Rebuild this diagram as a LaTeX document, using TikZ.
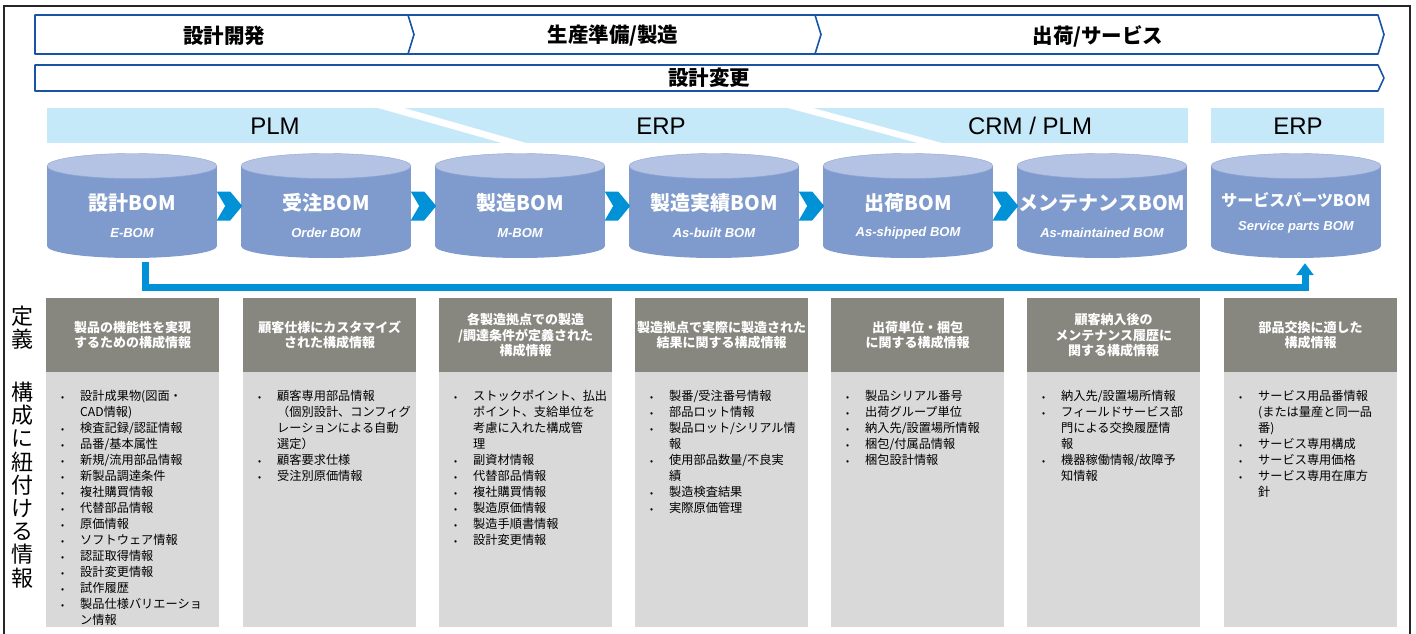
\documentclass[tikz,border=0pt]{standalone}
\usepackage{fontspec}
\setmainfont{Noto Sans CJK JP}
\newfontfamily\latinfont{Liberation Sans}
\usepackage{tikz}
\usetikzlibrary{arrows.meta, calc}
\definecolor{bandline}{RGB}{24, 84, 165}
\definecolor{sysbg}{RGB}{198, 233, 249}
\definecolor{dbbody}{RGB}{127, 155, 205}
\definecolor{dbtop}{RGB}{180, 195, 227}
\definecolor{dbedge}{RGB}{143, 165, 212}
\definecolor{flow}{RGB}{0, 145, 214}
\definecolor{hdgray}{RGB}{135, 135, 128}
\definecolor{bdgray}{RGB}{217, 217, 217}
\newcommand\lbul{{\fontsize{9}{9}\selectfont\textbullet}}

\begin{document}
\begin{tikzpicture}[x=1pt, y=-1pt,
  band/.style={draw=bandline, line width=1.6pt, line join=round},
  phase/.style={font=\fontsize{20.5}{20.5}\selectfont\bfseries},
  sys/.style={font=\latinfont\fontsize{24}{24}\selectfont},
  dbbox/.style={minimum width=170pt, minimum height=104pt, inner sep=0pt},
  dbtitle/.style={text=white, font=\fontsize{20}{20}\selectfont\bfseries},
  dbsub/.style={text=white, font=\latinfont\fontsize{13}{13}\selectfont\bfseries\itshape},
  hdbox/.style={fill=hdgray, text=white, minimum width=173pt, minimum height=74pt,
    inner sep=0pt, align=center, font=\fontsize{13}{15.5}\selectfont\bfseries, anchor=north west},
  list/.style={anchor=north west, inner sep=0pt, font=\fontsize{12.2}{16}\selectfont},
  side/.style={align=center, inner sep=0pt, font=\fontsize{22}{23.2}\selectfont},
  link/.style={draw=flow, line width=7pt, -{Triangle[width=17pt, length=12pt]}}]
  \useasboundingbox (0,0) rectangle (1416,634);
  \draw [line width=1.6pt, black!85] (4,634) -- (4,6) -- (1410,6) -- (1410,634);

  % phases
  \draw [band] (35,15) -- (1378,15) -- (1384,34.5) -- (1378,54) -- (35,54) -- cycle;
  \draw [band] (408,15) -- (414,34.5) -- (408,54);
  \draw [band] (815,15) -- (821,34.5) -- (815,54);
  \node [phase] (dev) at (224,36) {設計開発};
  \node [phase] (prod) at (613,36) {生産準備/製造};
  \node [phase] (ship) at (1098,36) {出荷/サービス};

  \draw [band] (35,65) -- (1378,65) -- (1384,78) -- (1378,91) -- (35,91) -- cycle;
  \node [phase] (chg) at (709,78) {設計変更};

  % systems
  \fill [sysbg] (47,108) rectangle (1188,143);
  \fill [sysbg] (1211,108) rectangle (1384,143);
  \fill [white] (378,108) -- (404,108) -- (526,143) -- (502,143) -- cycle;
  \fill [white] (788,108) -- (813,108) -- (942,143) -- (918,143) -- cycle;
  \node [sys] (plm) at (275,126) {PLM};
  \node [sys] (erp) at (661,126) {ERP};
  \node [sys] (crm) at (1030,126) {CRM / PLM};
  \node [sys] (erp2) at (1298,126) {ERP};

  % BOM databases
  \foreach \x/\n/\t/\s in {132/ebom/設計BOM/E-BOM, 326/obom/受注BOM/Order BOM,
      520/mbom/製造BOM/M-BOM, 714/abom/製造実績BOM/As-built BOM,
      908/sbom/出荷BOM/As-shipped BOM, 1102/tbom/メンテナンスBOM/As-maintained BOM} {
    \fill [dbbody] (\x-85,166) rectangle (\x+85,246);
    \fill [dbbody] (\x,246) ellipse [x radius=85, y radius=12];
    \filldraw [fill=dbtop, draw=dbedge] (\x,166) ellipse [x radius=85, y radius=12.5];
    \node [dbbox] (\n) at (\x,206) {};
    \node [dbtitle] (\n-t) at (\x,203) {\t};
    \node [dbsub] (\n-s) at (\x,233) {\s};
  }
  \fill [dbbody] (1211,166) rectangle (1381,246);
  \fill [dbbody] (1296,246) ellipse [x radius=85, y radius=12];
  \filldraw [fill=dbtop, draw=dbedge] (1296,166) ellipse [x radius=85, y radius=12.5];
  \node [dbbox] (spbom) at (1296,206) {};
  \node [dbtitle, font=\fontsize{16}{16}\selectfont\bfseries] (spbom-t) at (1296,200) {サービスパーツBOM};
  \node [dbsub] (spbom-s) at (1296,227) {Service parts BOM};

  \foreach \a in {ebom, obom, mbom, abom, sbom}
    \fill [flow, shift={(\a.east)}] (-0.5,-14.5) -- (13,-14.5) -- (25,0) -- (13,14.5) -- (-0.5,14.5) -- (8,0) -- cycle;

  \draw [link] ([xshift=13pt, yshift=-4pt]ebom.south) |- ([xshift=9pt, yshift=-29pt]spbom.south)
    -- ([xshift=9pt, yshift=-5pt]spbom.south);

  % side labels
  \node [side] (defn) at (22,328) {定\\義};
  \node [side] (info) at (22,485) {構\\成\\に\\紐\\付\\け\\る\\情\\報};

  % definitions
  \node [hdbox] (hd1) at (46,298) {製品の機能性を実現\\するための構成情報};
  \node [hdbox] (hd2) at (243,298) {顧客仕様にカスタマイズ\\された構成情報};
  \node [hdbox] (hd3) at (439,298) {各製造拠点での製造\\/調達条件が定義された\\構成情報};
  \node [hdbox] (hd4) at (635,298) {製造拠点で実際に製造された\\結果に関する構成情報};
  \node [hdbox] (hd5) at (831,298) {出荷単位・梱包\\に関する構成情報};
  \node [hdbox] (hd6) at (1027,298) {顧客納入後の\\メンテナンス履歴に\\関する構成情報};
  \node [hdbox] (hd7) at (1224,298) {部品交換に適した\\構成情報};
  \foreach \h in {hd1, hd2, hd3, hd4, hd5, hd6, hd7}
    \fill [bdgray] (\h.south west) rectangle ++(173pt,-255pt);

  % linked information
  \node [list] (ls1) at ([xshift=15pt, yshift=-17pt]hd1.south west) {\begin{tabular}{@{}p{19pt}@{}l@{}}
    \lbul & 設計成果物(図面・\\
          & CAD情報)\\
    \lbul & 検査記録/認証情報\\
    \lbul & 品番/基本属性\\
    \lbul & 新規/流用部品情報\\
    \lbul & 新製品調達条件\\
    \lbul & 複社購買情報\\
    \lbul & 代替部品情報\\
    \lbul & 原価情報\\
    \lbul & ソフトウェア情報\\
    \lbul & 認証取得情報\\
    \lbul & 設計変更情報\\
    \lbul & 試作履歴\\
    \lbul & 製品仕様バリエーショ\\
          & ン情報
  \end{tabular}};
  \node [list] (ls2) at ([xshift=15pt, yshift=-17pt]hd2.south west) {\begin{tabular}{@{}p{19pt}@{}l@{}}
    \lbul & 顧客専用部品情報\\
          & （個別設計、コンフィグ\\
          & レーションによる自動\\
          & 選定）\\
    \lbul & 顧客要求仕様\\
    \lbul & 受注別原価情報
  \end{tabular}};
  \node [list] (ls3) at ([xshift=15pt, yshift=-17pt]hd3.south west) {\begin{tabular}{@{}p{19pt}@{}l@{}}
    \lbul & ストックポイント、払出\\
          & ポイント、支給単位を\\
          & 考慮に入れた構成管\\
          & 理\\
    \lbul & 副資材情報\\
    \lbul & 代替部品情報\\
    \lbul & 複社購買情報\\
    \lbul & 製造原価情報\\
    \lbul & 製造手順書情報\\
    \lbul & 設計変更情報
  \end{tabular}};
  \node [list] (ls4) at ([xshift=15pt, yshift=-17pt]hd4.south west) {\begin{tabular}{@{}p{19pt}@{}l@{}}
    \lbul & 製番/受注番号情報\\
    \lbul & 部品ロット情報\\
    \lbul & 製品ロット/シリアル情\\
          & 報\\
    \lbul & 使用部品数量/不良実\\
          & 績\\
    \lbul & 製造検査結果\\
    \lbul & 実際原価管理
  \end{tabular}};
  \node [list] (ls5) at ([xshift=15pt, yshift=-17pt]hd5.south west) {\begin{tabular}{@{}p{19pt}@{}l@{}}
    \lbul & 製品シリアル番号\\
    \lbul & 出荷グループ単位\\
    \lbul & 納入先/設置場所情報\\
    \lbul & 梱包/付属品情報\\
    \lbul & 梱包設計情報
  \end{tabular}};
  \node [list] (ls6) at ([xshift=15pt, yshift=-17pt]hd6.south west) {\begin{tabular}{@{}p{19pt}@{}l@{}}
    \lbul & 納入先/設置場所情報\\
    \lbul & フィールドサービス部\\
          & 門による交換履歴情\\
          & 報\\
    \lbul & 機器稼働情報/故障予\\
          & 知情報
  \end{tabular}};
  \node [list] (ls7) at ([xshift=15pt, yshift=-17pt]hd7.south west) {\begin{tabular}{@{}p{19pt}@{}l@{}}
    \lbul & サービス用品番情報\\
          & (または量産と同一品\\
          & 番)\\
    \lbul & サービス専用構成\\
    \lbul & サービス専用価格\\
    \lbul & サービス専用在庫方\\
          & 針
  \end{tabular}};
\end{tikzpicture}
\end{document}
